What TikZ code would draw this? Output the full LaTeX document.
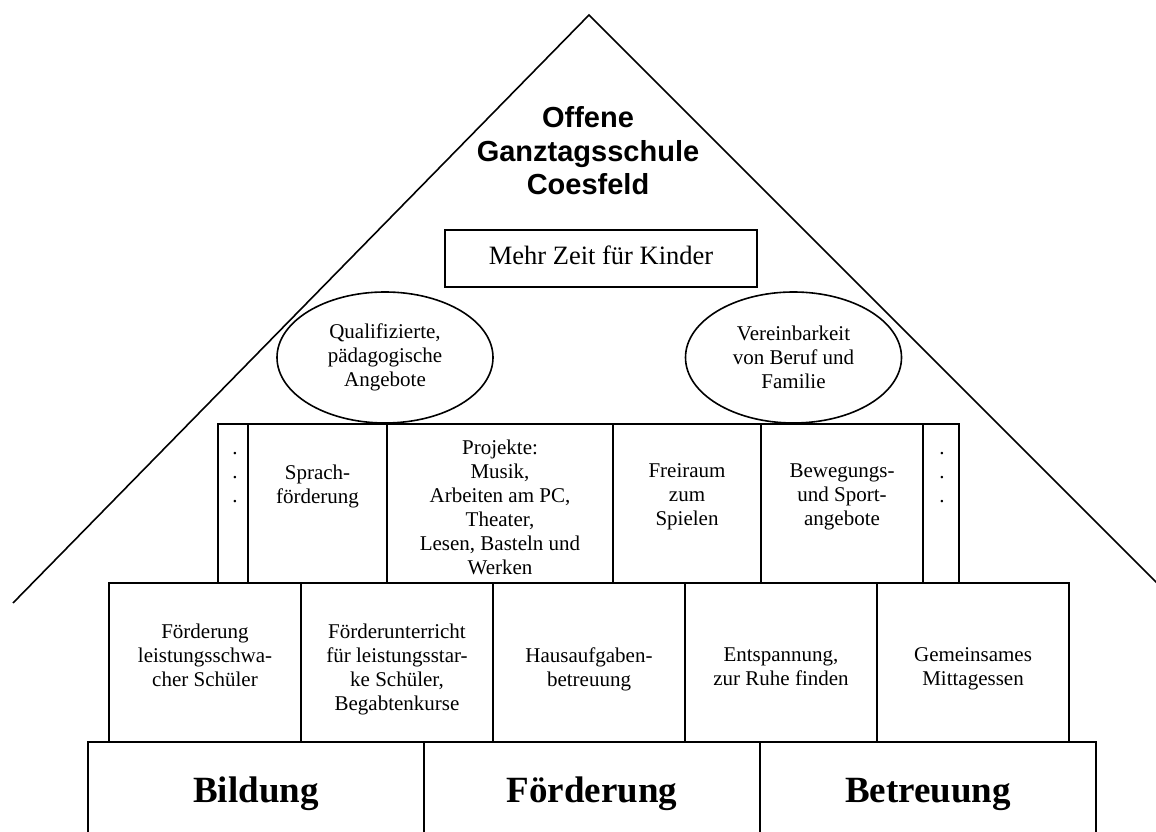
\documentclass[tikz,border=0pt]{standalone}
\usepackage{fontspec}
\setmainfont{Liberation Serif}
\newfontfamily\titlefont{Liberation Sans}
\usetikzlibrary{positioning, shapes.geometric}
\setlength{\parindent}{0pt}

\tikzset{
    box/.style={draw, line width=1.6pt, inner sep=0pt, outer sep=0pt, minimum height=159pt},
    txt/.style={inner sep=0pt, align=center, font=\fontsize{21}{24}\selectfont},
    oval/.style={txt, ellipse, draw, line width=1.6pt, minimum width=216pt, minimum height=131pt},
    pillar/.style={box, minimum width=336pt, minimum height=104pt,
        font=\fontsize{37}{44}\selectfont\bfseries, execute at begin node=\strut}
}

\begin{document}
\begin{tikzpicture}[x=1pt, y=1pt]
    \useasboundingbox (0,0) rectangle (1156,832);
    \clip (0,0) rectangle (1156,832);

    % roof
    \coordinate (l) at (13,229);
    \coordinate (top) at (589,817);
    \coordinate (r) at (1177,229);
    \draw[line width=1.6pt] (l) -- (top) -- (r);

    \node[align=center, inner sep=0pt, font=\titlefont\bfseries\fontsize{29}{33.5}\selectfont] (t)
        at (588,681) {Offene\\Ganztagsschule\\Coesfeld};
    \node[box, minimum width=312pt, minimum height=57pt, font=\fontsize{26.5}{30}\selectfont,
        execute at begin node=\strut] (z) at (601,573.5) {Mehr Zeit für Kinder};

    \node[oval] (q) at (385,474.5) {Qualifizierte,\\pädagogische\\Angebote};
    \node[oval] (v) at (793.5,474.5) {Vereinbarkeit\\von Beruf und\\Familie};

    % middle row
    \node[box, minimum width=30pt, anchor=south west] (m1) at (218,249) {};
    \node[box, minimum width=139pt, right=0pt of m1] (m2) {};
    \node[box, minimum width=226pt, right=0pt of m2] (m3) {};
    \node[box, minimum width=148pt, right=0pt of m3] (m4) {};
    \node[box, minimum width=162pt, right=0pt of m4] (m5) {};
    \node[box, minimum width=36pt, right=0pt of m5] (m6) {};

    \node[txt, below=14pt of m1.north, xshift=2pt] (m1t) {\strut.\\.\\.};
    \node[txt, below=40.5pt of m2.north] (m2t) {Sprach-\\förderung};
    \node[txt, below=15.5pt of m3.north] (m3t) {Projekte:\\Musik,\\Arbeiten am PC,\\Theater,\\Lesen, Basteln und\\Werken};
    \node[txt, below=39.5pt of m4.north] (m4t) {Freiraum\\zum\\Spielen};
    \node[txt, below=39.5pt of m5.north] (m5t) {Bewegungs-\\und Sport-\\angebote};
    \node[txt, below=14pt of m6.north, xshift=1pt] (m6t) {\strut.\\.\\.};

    % lower row
    \node[box, minimum width=192pt, anchor=south west] (u1) at (109,90) {};
    \foreach \i [remember=\i as \j (initially 1)] in {2,...,5}
        \node[box, minimum width=192pt, right=0pt of u\j] (u\i) {};

    \node[txt, below=40.5pt of u1.north] (u1t) {Förderung\\leistungsschwa-\\cher Schüler};
    \node[txt, below=40.5pt of u2.north] (u2t) {Förderunterricht\\für leistungsstar-\\ke Schüler,\\Begabtenkurse};
    \node[txt, below=64.5pt of u3.north] (u3t) {Hausaufgaben-\\betreuung};
    \node[txt, below=64.5pt of u4.north] (u4t) {Entspannung,\\zur Ruhe finden};
    \node[txt, below=64.5pt of u5.north] (u5t) {Gemeinsames\\Mittagessen};

    % pillars
    \node[pillar, anchor=south west] (b1) at (88,-14) {Bildung};
    \node[pillar, right=0pt of b1] (b2) {Förderung};
    \node[pillar, right=0pt of b2] (b3) {Betreuung};
\end{tikzpicture}
\end{document}
